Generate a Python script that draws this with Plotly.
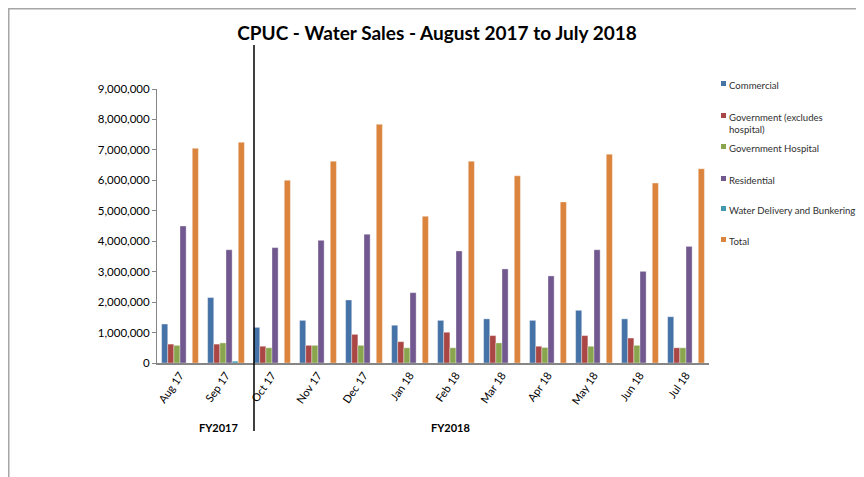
import plotly.graph_objects as go

# --- dane ---
months = ["Aug 17", "Sep 17", "Oct 17", "Nov 17", "Dec 17", "Jan 18",
          "Feb 18", "Mar 18", "Apr 18", "May 18", "Jun 18", "Jul 18"]

commercial = [1280000, 2150000, 1170000, 1400000, 2070000, 1240000,
              1400000, 1450000, 1400000, 1730000, 1450000, 1520000]
government = [620000, 620000, 550000, 580000, 940000, 700000,
              1010000, 900000, 550000, 900000, 820000, 500000]
gov_hospital = [580000, 660000, 500000, 580000, 580000, 500000,
                500000, 660000, 510000, 550000, 580000, 500000]
residential = [4500000, 3720000, 3790000, 4030000, 4230000, 2310000,
               3680000, 3090000, 2860000, 3720000, 3010000, 3830000]
water_delivery = [0, 60000, 0, 0, 0, 0, 0, 0, 0, 0, 0, 0]
total = [7050000, 7250000, 6000000, 6630000, 7840000, 4820000,
         6630000, 6150000, 5290000, 6860000, 5910000, 6380000]

series_names = ["Commercial", "Government (excludes<br>hospital)", "Government Hospital",
                "Residential", "Water Delivery and Bunkering", "Total"]
series_values = [commercial, government, gov_hospital, residential, water_delivery, total]
colors = ["#4572A7", "#AA4643", "#89A54E", "#71588F", "#4198AF", "#DB843D"]

y_ticks = list(range(0, 9000001, 1000000))

# --- geometria (piksele strony; strona ma 8px marginesu body) ---
OFF = 8
W, H = 864 - OFF, 477 - OFF
L, R, T, B = 157, 709, 89, 363
FONT = "Lato"


def px(x):
    return (x - L) / (R - L)


def py(y):
    return (B - y) / (B - T)


fig = go.Figure()
for name, vals, col in zip(series_names, series_values, colors):
    fig.add_trace(go.Bar(
        x=months, y=vals, name=name.replace("<br>", " "),
        marker=dict(color=col, line=dict(color="rgba(255,255,255,0.6)", width=0.6)),
        showlegend=False,
    ))

# legenda rysowana recznie (male kwadraty jak w Excelu)
legend_y = [85, 117, 148, 180, 210, 241]
annotations = []
shapes = []
for name, col, ly in zip(series_names, colors, legend_y):
    shapes.append(dict(type="rect", xref="paper", yref="paper",
                       x0=px(721), x1=px(726), y0=py(ly - 4), y1=py(ly + 1),
                       fillcolor=col, line=dict(width=0)))
    annotations.append(dict(x=px(727), y=py(ly - 7), xref="paper", yref="paper",
                            text=name, showarrow=False, xanchor="left", yanchor="top",
                            align="left", font=dict(family=FONT, size=9.6, color="#303030")))

# etykiety lat fiskalnych
for txt, fx in [("FY2017", 218), ("FY2018", 450)]:
    annotations.append(dict(x=px(fx), y=py(427), xref="paper", yref="paper",
                            text=f"<b>{txt}</b>", showarrow=False,
                            xanchor="center", yanchor="middle",
                            font=dict(family=FONT, size=11, color="#000000")))

# pionowa linia oddzielajaca FY2017 / FY2018
shapes.append(dict(type="line", xref="paper", yref="paper",
                   x0=px(254), x1=px(254), y0=py(45), y1=py(431),
                   line=dict(color="#000000", width=1.5)))

# ramka wykresu (lewa i gorna krawedz)
shapes.append(dict(type="line", xref="paper", yref="paper",
                   x0=px(OFF + 0.75), x1=px(OFF + 0.75), y0=py(OFF), y1=py(480),
                   line=dict(color="#A6A6A6", width=1.5)))
shapes.append(dict(type="line", xref="paper", yref="paper",
                   x0=px(OFF), x1=px(870), y0=py(OFF + 0.75), y1=py(OFF + 0.75),
                   line=dict(color="#A6A6A6", width=1.5)))

fig.update_layout(
    width=W, height=H,
    margin=dict(l=L - OFF, r=W - (R - OFF), t=T - OFF, b=H - (B - OFF), pad=0),
    paper_bgcolor="white", plot_bgcolor="white",
    barmode="group", bargap=0.2, bargroupgap=0,
    title=dict(text="<b>CPUC - Water Sales - August 2017 to July 2018</b>",
               x=(437 - OFF) / W, y=1 - (33 - OFF) / H, xref="container", yref="container",
               xanchor="center", yanchor="middle",
               font=dict(family=FONT, size=19, color="#000000")),
    xaxis=dict(showgrid=False, showline=True, linecolor="#868686", linewidth=1.5,
               tickangle=-55, tickfont=dict(family=FONT, size=11, color="#000000"),
               ticks="", fixedrange=True),
    yaxis=dict(range=[0, 9000000], tickvals=y_ticks, tickformat=",",
               showgrid=False, showline=True, linecolor="#868686", linewidth=1,
               ticks="outside", ticklen=4, tickcolor="#868686",
               tickfont=dict(family=FONT, size=11.5, color="#000000"), zeroline=False),
    annotations=annotations,
    shapes=shapes,
)

fig.write_html("out.html")
